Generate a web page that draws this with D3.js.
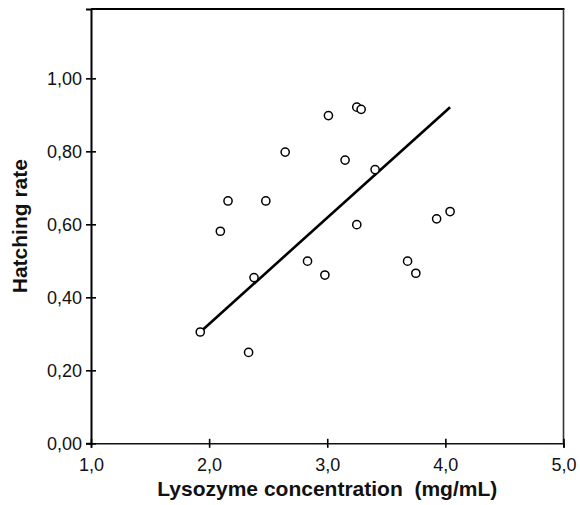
<!DOCTYPE html>
<html>
<head>
<meta charset="utf-8">
<script src="https://cdn.jsdelivr.net/npm/d3@7"></script>
<style>
  body { margin: 0; background: #fff; }
  svg { display: block; font-family: "Liberation Sans", Arial, Helvetica, sans-serif; }
</style>
</head>
<body>
<svg id="chart" width="580" height="505"></svg>
<script>
"use strict";

// lysozyme concentration (mg/mL) and hatching rate
const lysozyme = [1.925, 2.095, 2.16, 2.334, 2.38, 2.48, 2.644, 2.833, 2.98, 3.01,
  3.151, 3.25, 3.25, 3.287, 3.405, 3.68, 3.75, 3.926, 4.04];
const hatching = [0.305, 0.581, 0.664, 0.249, 0.454, 0.664, 0.798, 0.499, 0.461, 0.898,
  0.776, 0.921, 0.599, 0.915, 0.750, 0.499, 0.466, 0.615, 0.635];

// fitted line, start and end
const fitX = [1.925, 4.04];
const fitY = [0.305, 0.921];

const xTicks = [1, 2, 3, 4, 5];
const yTicks = [0, 0.2, 0.4, 0.6, 0.8, 1.0];

const PLOT = { LEFT: 91, RIGHT: 563.5, TOP: 9, BOTTOM: 443.3 };

const comma = (digits) => (v) => v.toFixed(digits).replace(".", ",");

const svg = d3.select("#chart");

const x = d3.scaleLinear().domain([1, 5]).range([PLOT.LEFT, PLOT.RIGHT]);
const y = d3.scaleLinear().domain([0, 1.19]).range([PLOT.BOTTOM, PLOT.TOP]);

// frame: top and right
svg.append("line")
  .attr("x1", PLOT.LEFT).attr("x2", PLOT.RIGHT + 1)
  .attr("y1", PLOT.TOP).attr("y2", PLOT.TOP)
  .attr("stroke", "#000").attr("stroke-width", 2.2);
svg.append("line")
  .attr("x1", PLOT.RIGHT).attr("x2", PLOT.RIGHT)
  .attr("y1", PLOT.TOP).attr("y2", PLOT.BOTTOM)
  .attr("stroke", "#333").attr("stroke-width", 1.6);

// axes with ticks crossing the line
const xAxis = svg.append("g")
  .attr("transform", `translate(0,${PLOT.BOTTOM})`)
  .call(d3.axisBottom(x).tickValues(xTicks).tickFormat(comma(1)).tickSize(4.5).tickPadding(10));
xAxis.select(".domain").attr("stroke", "#111").attr("stroke-width", 1.6);
xAxis.selectAll(".tick line").attr("y1", -4.5).attr("stroke-width", 1.6);
xAxis.selectAll(".tick text").attr("font-size", 18).attr("fill", "#111")
  .attr("font-family", "'Liberation Sans', Arial, sans-serif");

const yAxis = svg.append("g")
  .attr("transform", `translate(${PLOT.LEFT},0)`)
  .call(d3.axisLeft(y).tickValues(yTicks).tickFormat(comma(2)).tickSize(5).tickPadding(4));
yAxis.select(".domain").attr("stroke", "#000").attr("stroke-width", 2);
yAxis.selectAll(".tick line").attr("x2", 5).attr("x1", -5).attr("stroke-width", 1.6);
yAxis.selectAll(".tick text").attr("font-size", 18).attr("fill", "#111")
  .attr("font-family", "'Liberation Sans', Arial, sans-serif");

// regression line
const line = d3.line().x(d => x(d[0])).y(d => y(d[1]));
svg.append("path")
  .datum(d3.zip(fitX, fitY))
  .attr("d", line)
  .attr("fill", "none")
  .attr("stroke", "#000")
  .attr("stroke-width", 2.6);

// observations
svg.append("g").selectAll("circle")
  .data(d3.zip(lysozyme, hatching))
  .join("circle")
  .attr("cx", d => x(d[0]))
  .attr("cy", d => y(d[1]))
  .attr("r", 4.1)
  .attr("fill", "#fff")
  .attr("stroke", "#000")
  .attr("stroke-width", 1.5);

// axis titles
svg.append("text")
  .attr("x", (PLOT.LEFT + PLOT.RIGHT) / 2)
  .attr("y", 496)
  .attr("text-anchor", "middle")
  .attr("font-size", 21)
  .attr("font-weight", "bold")
  .attr("fill", "#111")
  .attr("xml:space", "preserve")
  .text("Lysozyme concentration  (mg/mL)");

svg.append("text")
  .attr("transform", `translate(27,${(PLOT.TOP + PLOT.BOTTOM) / 2}) rotate(-90)`)
  .attr("text-anchor", "middle")
  .attr("font-size", 21)
  .attr("font-weight", "bold")
  .attr("fill", "#111")
  .text("Hatching rate");
</script>
</body>
</html>
